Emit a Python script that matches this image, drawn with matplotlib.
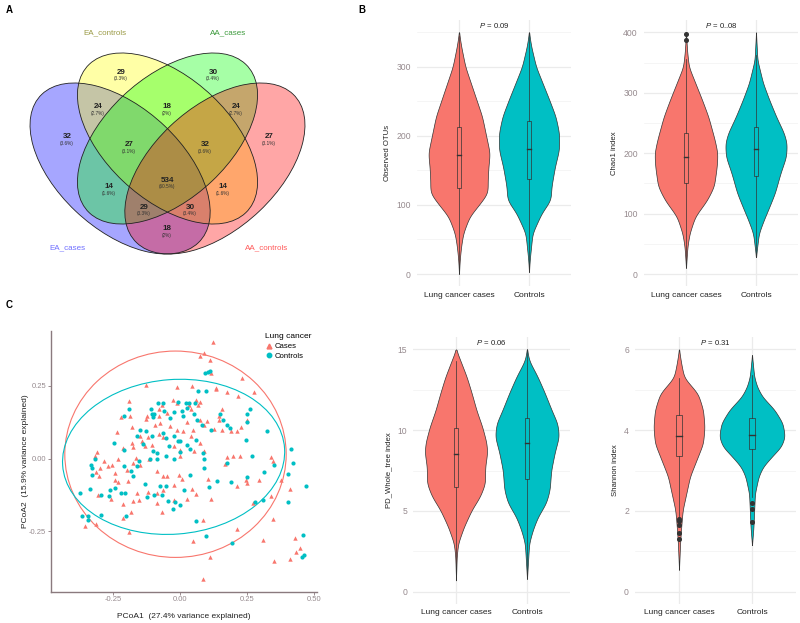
import numpy as np
import matplotlib
matplotlib.use("Agg")
import matplotlib.pyplot as plt
from matplotlib.patches import Ellipse, Rectangle
from matplotlib.lines import Line2D

plt.rcParams['font.family'] = ['Liberation Sans', 'DejaVu Sans']
plt.rcParams['mathtext.fontset'] = 'custom'
plt.rcParams['mathtext.rm'] = 'Liberation Sans'
plt.rcParams['mathtext.it'] = 'Liberation Sans:italic'

# --- DATA ---
# Venn (panel A)
venn_sets = ["EA_cases", "EA_controls", "AA_cases", "AA_controls"]
venn_counts = [32, 29, 30, 27, 24, 18, 24, 27, 32, 14, 534, 14, 29, 30, 18]

# Alpha diversity (panel B): violin outlines (value, half width)
groups = ["Lung cancer cases", "Controls"]

otu_cases_y = [0, 20, 40, 59, 83, 102, 117, 136, 155, 175, 194, 228, 252, 300, 330, 350]
otu_cases_w = [0, 0.01, 0.03, 0.06, 0.15, 0.30, 0.41, 0.41, 0.42, 0.44, 0.40, 0.33, 0.25, 0.09, 0.03, 0]
otu_ctrl_y = [3, 20, 59, 88, 107, 126, 155, 180, 204, 228, 252, 300, 330, 350]
otu_ctrl_w = [0, 0.01, 0.05, 0.18, 0.31, 0.32, 0.37, 0.43, 0.43, 0.38, 0.29, 0.10, 0.03, 0]
otu_box = [(2, 125, 172, 213, 345), (3, 138, 181, 222, 348)]
otu_out = [[], []]

chao_cases_y = [10, 45, 67, 95, 122, 145, 178, 200, 222, 260, 288, 343, 370, 400]
chao_cases_w = [0, 0.02, 0.05, 0.13, 0.30, 0.40, 0.44, 0.45, 0.41, 0.32, 0.23, 0.04, 0.015, 0]
chao_ctrl_y = [28, 67, 89, 111, 134, 167, 194, 216, 233, 260, 288, 316, 354, 400]
chao_ctrl_w = [0, 0.04, 0.11, 0.19, 0.27, 0.35, 0.43, 0.44, 0.40, 0.29, 0.19, 0.10, 0.02, 0]
chao_box = [(12, 150, 193, 233, 355), (28, 162, 207, 243, 362)]
chao_out = [[388, 397], []]

pd_cases_y = [0.7, 2.2, 3.0, 4.0, 5.05, 5.9, 6.7, 7.7, 8.6, 9.2, 10.2, 11.2, 12.3, 13.3, 15.0]
pd_cases_w = [0, 0.01, 0.03, 0.11, 0.22, 0.34, 0.41, 0.41, 0.44, 0.43, 0.37, 0.29, 0.22, 0.15, 0]
pd_ctrl_y = [0.8, 3.0, 3.8, 4.6, 5.5, 6.3, 7.5, 8.6, 9.6, 10.4, 11.2, 12.3, 13.3, 14.3, 15.0]
pd_ctrl_w = [0, 0.03, 0.08, 0.15, 0.27, 0.32, 0.34, 0.39, 0.45, 0.43, 0.35, 0.25, 0.15, 0.03, 0]
pd_box = [(0.7, 6.45, 8.5, 10.1, 14.3), (0.8, 6.95, 9.22, 10.73, 15.0)]
pd_out = [[], []]

sh_cases_y = [0.54, 1.2, 1.6, 2.02, 2.43, 2.85, 3.26, 3.67, 4.08, 4.5, 4.9, 5.3, 5.65, 6.0]
sh_cases_w = [0, 0.015, 0.03, 0.05, 0.10, 0.15, 0.24, 0.33, 0.35, 0.33, 0.26, 0.07, 0.03, 0]
sh_ctrl_y = [1.15, 1.6, 2.02, 2.43, 2.85, 3.09, 3.34, 3.59, 3.84, 4.17, 4.5, 4.83, 5.07, 5.32, 5.86]
sh_ctrl_w = [0, 0.02, 0.03, 0.04, 0.09, 0.15, 0.27, 0.40, 0.45, 0.42, 0.31, 0.14, 0.07, 0.03, 0]
sh_box = [(1.85, 3.36, 3.85, 4.37, 5.28), (2.35, 3.53, 3.88, 4.29, 5.36)]
sh_out = [[1.3, 1.46, 1.65, 1.75, 1.8], [2.19, 2.05, 1.73]]

p_values = ["0.09", "0..08", "0.06", "0.31"]

# PCoA (panel C)
cases_pc1 = [0.121, 0.073, 0.088, 0.110, 0.115, -0.128, -0.013, 0.044, 0.133, 0.135,
             0.229, 0.275, 0.173, 0.215, -0.190, -0.029, -0.013, 0.060, 0.066, 0.075,
             0.033, 0.040, 0.156, -0.223, -0.188, -0.128, -0.125, -0.069, -0.078, -0.081,
             -0.050, -0.075, -0.235, -0.181, -0.150, -0.119, -0.094, -0.081, -0.038, -0.013,
             0.010, 0.025, 0.040, 0.048, 0.073, 0.088, 0.100, 0.125, 0.144, 0.156,
             0.188, 0.213, 0.225, 0.250, 0.144, -0.213, -0.181, -0.175, -0.144, -0.131,
             -0.106, -0.063, -0.025, 0.000, 0.050, 0.088, 0.075, 0.000, -0.310, -0.319,
             -0.285, -0.269, -0.300, -0.315, -0.255, -0.244, -0.231, -0.200, -0.175, -0.165,
             -0.150, -0.115, -0.088, -0.063, -0.050, -0.006, 0.006, -0.025, -0.063, -0.088,
             -0.119, -0.160, -0.175, -0.156, -0.194, -0.231, -0.260, -0.306, -0.215, -0.184,
             -0.215, -0.356, -0.313, -0.191, -0.088, -0.070, -0.025, 0.044, 0.060, 0.025,
             0.104, 0.113, 0.166, 0.173, 0.198, 0.223, 0.210, 0.244, 0.250, 0.294,
             0.338, 0.344, 0.375, 0.408, 0.338, 0.273, 0.210, 0.085, 0.048, 0.110,
             0.085, 0.310, 0.344, 0.350, 0.408, 0.429, 0.433, 0.445, -0.244, -0.303]
cases_pc2 = [0.402, 0.353, 0.364, 0.339, 0.293, 0.254, 0.246, 0.249, 0.244, 0.238,
             0.278, 0.229, 0.229, 0.215, 0.197, 0.201, 0.192, 0.201, 0.186, 0.194,
             0.186, 0.171, 0.171, 0.143, 0.146, 0.137, 0.148, 0.186, 0.171, 0.146,
             0.157, 0.123, 0.093, 0.109, 0.079, 0.075, 0.114, 0.083, 0.111, 0.100,
             0.094, 0.125, 0.077, 0.100, 0.132, 0.114, 0.129, 0.102, 0.134, 0.100,
             0.094, 0.094, 0.109, 0.134, 0.146, 0.037, 0.052, 0.040, 0.060, 0.043,
             0.048, 0.075, 0.045, 0.031, 0.025, 0.025, 0.054, 0.008, 0.022, 0.008,
             -0.009, -0.024, -0.032, -0.047, -0.021, -0.049, -0.003, -0.040, -0.015, 0.001,
             -0.021, -0.003, -0.044, -0.061, -0.059, -0.056, -0.070, -0.090, -0.107, -0.118,
             -0.116, -0.118, -0.147, -0.141, -0.078, -0.082, -0.139, -0.126, -0.155, -0.185,
             -0.205, -0.231, -0.224, -0.254, -0.153, -0.185, -0.144, -0.105, -0.121, -0.139,
             -0.070, -0.139, -0.017, 0.006, 0.008, 0.008, -0.095, -0.072, -0.084, -0.072,
             0.006, -0.009, -0.075, -0.105, -0.128, -0.153, -0.243, -0.210, -0.283, -0.337,
             -0.415, -0.279, -0.208, -0.354, -0.346, -0.274, -0.320, -0.308, -0.072, -0.061]

ctrl_pc1 = [0.103, 0.109, 0.091, 0.065, 0.094, -0.084, -0.063, -0.010, 0.023, 0.031,
            0.025, 0.006, -0.190, -0.210, -0.110, -0.106, -0.098, -0.103, -0.060, -0.023,
            0.010, 0.050, 0.063, 0.081, 0.148, 0.160, 0.175, 0.185, 0.260, 0.250,
            0.248, 0.116, 0.325, 0.244, 0.269, -0.248, -0.210, -0.150, -0.128, -0.160,
            -0.106, -0.063, -0.054, -0.025, -0.009, 0.035, 0.060, 0.025, -0.103, -0.088,
            -0.053, -0.025, 0.000, -0.088, 0.085, 0.090, 0.090, 0.173, -0.113, -0.156,
            -0.160, -0.184, -0.178, -0.210, -0.244, -0.263, -0.265, -0.223, -0.206, -0.296,
            -0.338, -0.375, -0.331, -0.328, -0.335, -0.319, -0.365, -0.344, -0.344, -0.296,
            -0.203, -0.131, -0.125, -0.100, -0.069, -0.053, -0.046, -0.029, 0.000, -0.019,
            0.035, 0.013, -0.075, 0.138, 0.106, 0.188, 0.250, 0.313, 0.348, 0.310,
            0.278, 0.403, 0.413, 0.421, 0.400, 0.470, 0.060, 0.094, 0.194, 0.456,
            0.460, 0.454, 0.056, -0.038, -0.044, 0.000, -0.140]
ctrl_pc2 = [0.298, 0.303, 0.293, 0.232, 0.232, 0.192, 0.190, 0.194, 0.192, 0.192,
            0.175, 0.163, 0.169, 0.146, 0.169, 0.152, 0.155, 0.144, 0.163, 0.160,
            0.148, 0.155, 0.134, 0.114, 0.155, 0.134, 0.114, 0.106, 0.171, 0.152,
            0.125, 0.100, 0.094, 0.063, 0.010, 0.052, 0.031, 0.098, 0.094, 0.077,
            0.079, 0.089, 0.070, 0.077, 0.060, 0.033, 0.063, 0.048, 0.025, 0.020,
            0.008, -0.001, 0.022, -0.001, 0.020, -0.003, -0.032, -0.015, -0.003, -0.009,
            -0.026, -0.044, -0.061, -0.026, -0.101, -0.107, -0.130, -0.118, -0.118, -0.124,
            -0.105, -0.118, -0.055, -0.032, -0.021, -0.003, -0.199, -0.197, -0.210, -0.193,
            -0.197, -0.086, -0.132, -0.124, -0.124, -0.093, -0.147, -0.174, -0.160, -0.151,
            -0.055, -0.109, -0.093, -0.076, -0.098, -0.082, -0.063, -0.047, -0.021, -0.141,
            -0.151, -0.052, 0.033, -0.015, -0.148, -0.095, -0.216, -0.266, -0.289, -0.262,
            -0.331, -0.339, 0.192, 0.140, 0.043, 0.060, 0.050]

# 95% ellipses (stat_ellipse): centre, half widths, tilt (deg)
ell_cases_center = (-0.018, 0.015)
ell_cases_half = (0.413, 0.355)
ell_cases_angle = 0
ell_ctrl_center = (-0.025, 0.006)
ell_ctrl_half = (0.415, 0.266)
ell_ctrl_angle = 4

RED = "#F8766D"
TEAL = "#00BFC4"
TICKCOL = "#968a8e"
W, H = 800, 623

fig = plt.figure(figsize=(8, 6.23), dpi=100)


def px_axes(x0, y0, x1, y1):
    return fig.add_axes([x0 / W, 1 - y1 / H, (x1 - x0) / W, (y1 - y0) / H])


def fig_text(px, py, s, **kw):
    fig.text(px / W, 1 - py / H, s, **kw)


# ---------------- Panel A: Venn ----------------
ax_v = px_axes(9.5, 9.5, 325.5, 309.5)
ax_v.set_xlim(0, 1)
ax_v.set_ylim(0, 1)
ax_v.axis("off")

venn_geom = [((0.35, 0.47), 135), ((0.5, 0.57), 135), ((0.5, 0.57), 45), ((0.65, 0.47), 45)]
venn_fill = ["#0000FF", "#FFFF00", "#00FF00", "#FF0000"]
for (c, ang), col in zip(venn_geom, venn_fill):
    ax_v.add_patch(Ellipse(c, 0.7, 0.4, angle=ang, facecolor=col, alpha=0.35, edgecolor="none"))
for (c, ang), col in zip(venn_geom, venn_fill):
    ax_v.add_patch(Ellipse(c, 0.7, 0.4, angle=ang, facecolor="none", edgecolor="#222222", lw=0.6))

# label positions in figure pixels
venn_pos = [(67, 137), (121, 72), (213, 72), (269, 137), (98, 107), (167, 107), (236, 107),
            (129, 145), (205, 145), (109, 187), (167, 180), (223, 187), (144, 207), (190, 207),
            (167, 229)]
total = sum(venn_counts)
for n, (px, py) in zip(venn_counts, venn_pos):
    pct = round(100 * n / total, 1)
    fig_text(px, py, str(n), ha="center", va="center", fontsize=5.8, fontweight="bold", color="#222222")
    fig_text(px, py + 6.5, "(%g%%)" % pct, ha="center", va="center", fontsize=3.4, color="#333333")

cat_pos = [(67, 248), (105, 33), (228, 33), (267, 248)]
cat_col = ["#6f6fff", "#9a9a45", "#3c9a3c", "#ff5a5a"]
for name, (px, py), col in zip(venn_sets, cat_pos, cat_col):
    fig_text(px, py, name, ha="center", va="center", fontsize=5.8, color=col)

# ---------------- Panel B: violins ----------------


def smooth_profile(y, w):
    yy = np.linspace(y[0], y[-1], 300)
    ww = np.interp(yy, y, w)
    k = np.exp(-0.5 * (np.arange(-12, 13) / 5.0) ** 2)
    k /= k.sum()
    ww = np.convolve(np.pad(ww, 12, mode="edge"), k, mode="valid")
    ww[0] = ww[-1] = 0
    return yy, ww


def violin_panel(cats_px, ref0, ref1, ylim, yticks, minor, ylabel, pval, profiles, boxes, outs):
    c1, c2 = cats_px
    sp = c2 - c1
    (v0, p0), (v1, p1) = ref0, ref1
    per = (p0 - p1) / (v1 - v0)
    top = p0 - (ylim[1] - v0) * per
    bottom = p0 + (v0 - ylim[0]) * per
    ax = px_axes(c1 - 0.6 * sp, top, c2 + 0.6 * sp, bottom)
    ax.set_xlim(0.4, 2.6)
    ax.set_ylim(*ylim)
    for v in yticks:
        ax.axhline(v, color="#ebebeb", lw=0.9, zorder=0)
    for v in minor:
        ax.axhline(v, color="#f2f2f2", lw=0.5, zorder=0)
    for xc in (1, 2):
        ax.axvline(xc, color="#ebebeb", lw=0.9, zorder=0)
    for i, ((yv, wv), col) in enumerate(zip(profiles, [RED, TEAL])):
        yy, ww = smooth_profile(yv, wv)
        xc = i + 1
        ax.fill_betweenx(yy, xc - ww, xc + ww, facecolor=col, edgecolor="#333333", lw=0.5, zorder=2)
        lo, q1, med, q3, hi = boxes[i]
        ax.plot([xc, xc], [lo, q1], color="#333333", lw=0.5, zorder=3)
        ax.plot([xc, xc], [q3, hi], color="#333333", lw=0.5, zorder=3)
        bw = 0.07
        ax.add_patch(Rectangle((xc - bw / 2, q1), bw, q3 - q1, facecolor="none",
                               edgecolor="#333333", lw=0.5, zorder=3))
        ax.plot([xc - bw / 2, xc + bw / 2], [med, med], color="#333333", lw=1.0, zorder=3)
        if outs[i]:
            ax.plot([xc] * len(outs[i]), outs[i], "o", color="#333333", ms=2.6, zorder=4)
    ax.set_xticks([1, 2])
    ax.set_xticklabels(groups, fontsize=6, color="#222222")
    ax.set_yticks(yticks)
    ax.set_yticklabels([("%g" % v) for v in yticks], fontsize=6.2, color=TICKCOL)
    ax.tick_params(axis="y", length=0, pad=4.5)
    ax.tick_params(axis="x", length=0, pad=4)
    ax.set_ylabel(ylabel, fontsize=5.6, color="#222222", labelpad=4)
    for s in ax.spines.values():
        s.set_visible(False)
    ax.annotate(r"$\it{P}$ = " + pval, xy=(1.5, 1.0), xycoords=("data", "axes fraction"),
                xytext=(0, -4), textcoords="offset points", ha="center", va="center",
                fontsize=5.6, color="#222222")
    return ax


violin_panel((459, 529), (0, 274), (300, 66.7), (-17.5, 367.5), [0, 100, 200, 300],
             [50, 150, 250, 350], "Observed OTUs", p_values[0],
             [(otu_cases_y, otu_cases_w), (otu_ctrl_y, otu_ctrl_w)], otu_box, otu_out)
violin_panel((686, 756), (0, 274), (400, 32.3), (-20, 420), [0, 100, 200, 300, 400],
             [50, 150, 250, 350], "Chao1 index", p_values[1],
             [(chao_cases_y, chao_cases_w), (chao_ctrl_y, chao_ctrl_w)], chao_box, chao_out)
violin_panel((456, 527), (0, 591.7), (15, 349.3), (-0.75, 15.75), [0, 5, 10, 15],
             [2.5, 7.5, 12.5], "PD_Whole_tree index", p_values[2],
             [(pd_cases_y, pd_cases_w), (pd_ctrl_y, pd_ctrl_w)], pd_box, pd_out)
violin_panel((679, 752), (0, 591.7), (6, 349.3), (-0.3, 6.3), [0, 2, 4, 6],
             [1, 3, 5], "Shannon index", p_values[3],
             [(sh_cases_y, sh_cases_w), (sh_ctrl_y, sh_ctrl_w)], sh_box, sh_out)

# ---------------- Panel C: PCoA ----------------
ax_p = px_axes(51, 331, 317, 592)
ax_p.set_xlim(-0.4825, 0.51)
ax_p.set_ylim(-0.459, 0.439)

for c, half, ang, col in [(ell_cases_center, ell_cases_half, ell_cases_angle, RED),
                          (ell_ctrl_center, ell_ctrl_half, ell_ctrl_angle, TEAL)]:
    ax_p.add_patch(Ellipse(c, 2 * half[0], 2 * half[1], angle=ang, facecolor="none",
                           edgecolor=col, lw=0.8, zorder=2))

ax_p.scatter(cases_pc1, cases_pc2, marker="^", s=10, color=RED, linewidths=0, zorder=3)
ax_p.scatter(ctrl_pc1, ctrl_pc2, marker="o", s=9, color=TEAL, linewidths=0, zorder=3)

ax_p.set_xticks([-0.25, 0, 0.25, 0.5])
ax_p.set_xticklabels(["-0.25", "0.00", "0.25", "0.50"])
ax_p.set_yticks([-0.25, 0, 0.25])
ax_p.set_yticklabels(["-0.25", "0.00", "0.25"])
ax_p.tick_params(labelsize=5.5, labelcolor=TICKCOL, color="#8a7a7e", length=2, width=0.6)
ax_p.tick_params(axis="y", pad=1.5)
ax_p.tick_params(axis="x", pad=1.0)
for s in ["top", "right"]:
    ax_p.spines[s].set_visible(False)
for s in ["left", "bottom"]:
    ax_p.spines[s].set_color("#8a7a7e")
    ax_p.spines[s].set_linewidth(1.0)
ax_p.set_xlabel("PCoA1  (27.4% variance explained)", fontsize=6, color="#222222", labelpad=7)
ax_p.set_ylabel("PCoA2  (15.9% variance explained)", fontsize=6, color="#222222", labelpad=0)

handles = [Line2D([], [], marker="^", ls="", color=RED, ms=3.5),
           Line2D([], [], marker="o", ls="", color=TEAL, ms=3.2)]
leg = fig.legend(handles, ["Cases", "Controls"], title="Lung cancer", loc="upper left",
                 bbox_to_anchor=(260 / W, 1 - 328 / H), frameon=False, fontsize=5.6,
                 title_fontsize=6, handletextpad=0.2, borderpad=0.2, labelspacing=0.3,
                 handlelength=1.0)
leg._legend_box.align = "left"

# panel letters
fig_text(9, 10, "A", fontsize=7, fontweight="bold", ha="center", va="center")
fig_text(362, 10, "B", fontsize=7, fontweight="bold", ha="center", va="center")
fig_text(9, 305, "C", fontsize=7, fontweight="bold", ha="center", va="center")

fig.savefig("out.png", dpi=100)
